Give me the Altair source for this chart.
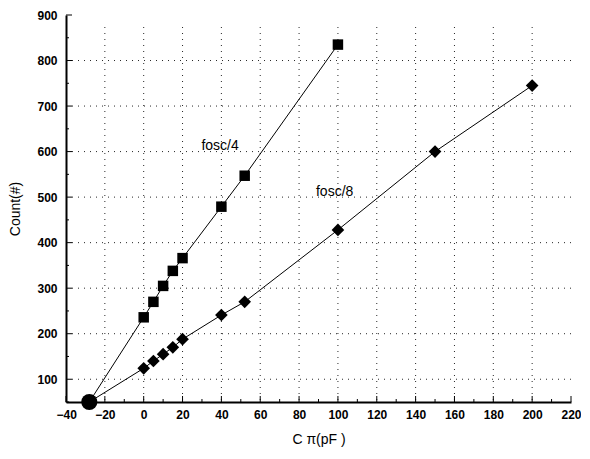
import altair as alt
import pandas as pd

# origin marker shared by both series
origin_x = -28
origin_y = 50

x_fosc4 = [0, 5, 10, 15, 20, 40, 52, 100]
y_fosc4 = [236, 270, 305, 338, 366, 479, 547, 835]

x_fosc8 = [0, 5, 10, 15, 20, 40, 52, 100, 150, 200]
y_fosc8 = [124, 140, 155, 170, 188, 241, 270, 428, 600, 745]

series_names = ["fosc/4", "fosc/8"]
x_ticks = list(range(-40, 221, 20))
x_minor = list(range(-40, 221, 10))
y_ticks = list(range(100, 901, 100))
y_minor = list(range(50, 901, 50))
x_grid = list(range(-20, 201, 20))
y_grid = list(range(100, 801, 100))

label_x = [29.7, 88.7]
label_y = [613, 512]

rows = []
for s, xs, ys in [(series_names[0], x_fosc4, y_fosc4), (series_names[1], x_fosc8, y_fosc8)]:
    rows.append(dict(series=s, x=origin_x, y=origin_y, order=0))
    for i, (a, b) in enumerate(zip(xs, ys)):
        rows.append(dict(series=s, x=a, y=b, order=i + 1))
df = pd.DataFrame(rows)
pts = df[df.order > 0]

W, H = 505, 387
xscale = alt.Scale(domain=[-40, 220], nice=False, zero=False)
yscale = alt.Scale(domain=[50, 900], nice=False, zero=False)

LF = "Liberation Sans"
xaxis = alt.Axis(values=x_ticks, title="C π(pF )", grid=False, ticks=False,
                 domainColor="black", domainWidth=2,
                 labelOverlap=False, labelFlush=True, labelFlushOffset=10,
                 labelFont=LF, labelFontWeight="bold", labelFontSize=12, labelColor="black",
                 labelPadding=7, titleFont=LF, titleFontWeight="normal", titleFontSize=14,
                 titleColor="black", titlePadding=12)
yaxis = alt.Axis(values=y_ticks, title="Count(#)", grid=False, ticks=False,
                 domainColor="black", domainWidth=2,
                 labelOverlap=False, labelFlush=False,
                 labelFont=LF, labelFontWeight="bold", labelFontSize=12, labelColor="black",
                 labelPadding=9, titleFont=LF, titleFontWeight="normal", titleFontSize=14,
                 titleColor="black", titlePadding=14)


def X(f):
    return alt.X(f, type="quantitative", scale=xscale, axis=xaxis)


def Y(f):
    return alt.Y(f, type="quantitative", scale=yscale, axis=yaxis)


xg = alt.Chart(pd.DataFrame({"x": x_grid})).mark_rule(
    color="black", strokeWidth=1, strokeDash=[1, 5], opacity=0.85).encode(
    x=X("x"), y=alt.value(12), y2=alt.value(H))
yg = alt.Chart(pd.DataFrame({"y": y_grid})).mark_rule(
    color="black", strokeWidth=1, strokeDash=[1, 5], opacity=0.85).encode(
    y=Y("y"), x=alt.value(0), x2=alt.value(W))

lines = alt.Chart(df).mark_line(color="black", strokeWidth=1).encode(
    x=X("x"), y=Y("y"), detail="series:N", order="order:Q",
)

points = alt.Chart(pts).mark_point(filled=True, color="black", opacity=1).encode(
    x=X("x"), y=Y("y"),
    shape=alt.Shape("series:N", scale=alt.Scale(domain=series_names, range=["square", "diamond"]), legend=None),
    size=alt.Size("series:N", scale=alt.Scale(domain=series_names, range=[110, 160]), legend=None),
)

origin_pt = alt.Chart(pd.DataFrame({"x": [origin_x], "y": [origin_y]})).mark_circle(
    color="black", opacity=1, size=260).encode(x=X("x"), y=Y("y"))

labels = alt.Chart(pd.DataFrame({"x": label_x, "y": label_y, "t": series_names})).mark_text(
    align="left", baseline="middle", font=LF, fontSize=14, color="black").encode(
    x=X("x"), y=Y("y"), text="t:N")

xt = pd.DataFrame({"x": x_minor, "major": [v % 20 == 0 for v in x_minor]})
xticks_major = alt.Chart(xt[xt.major]).mark_rule(color="black", strokeWidth=1).encode(
    x=X("x"), y=alt.value(H), y2=alt.value(H - 6))
xticks_minor = alt.Chart(xt[~xt.major]).mark_rule(color="black", strokeWidth=1).encode(
    x=X("x"), y=alt.value(H), y2=alt.value(H - 3))

yt = pd.DataFrame({"y": y_minor, "major": [v % 100 == 0 for v in y_minor]})
yticks_major = alt.Chart(yt[yt.major]).mark_rule(color="black", strokeWidth=1).encode(
    y=Y("y"), x=alt.value(0), x2=alt.value(6))
yticks_minor = alt.Chart(yt[~yt.major]).mark_rule(color="black", strokeWidth=1).encode(
    y=Y("y"), x=alt.value(0), x2=alt.value(3))

chart = alt.layer(xg, yg, lines, xticks_major, xticks_minor, yticks_major, yticks_minor,
                  points, origin_pt, labels).properties(
    width=W, height=H, background="white",
    padding={"left": 0, "top": 1, "right": 0, "bottom": 5}
).configure_view(stroke=None).configure_axis(labelOverlap=False)

chart.save("out.html", embed_options={"renderer": "svg", "actions": False})
